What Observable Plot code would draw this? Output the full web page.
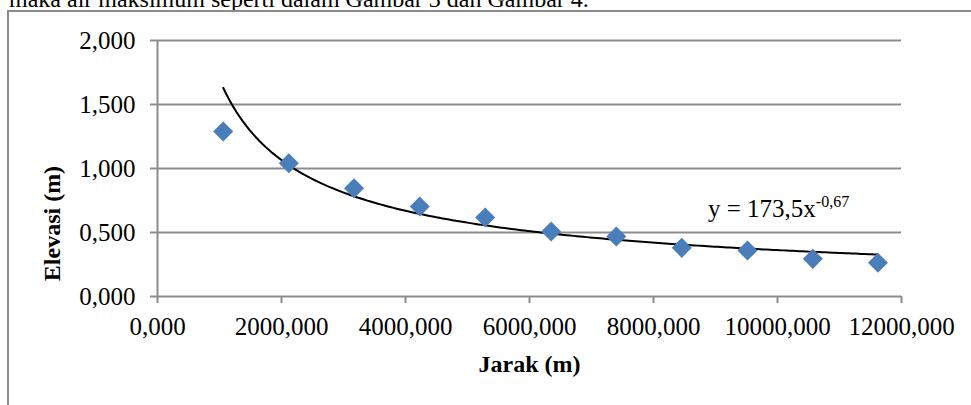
<!DOCTYPE html>
<html><head><meta charset="utf-8">
<script src="https://cdn.jsdelivr.net/npm/d3@7"></script>
<script src="https://cdn.jsdelivr.net/npm/@observablehq/plot@0.6"></script>
<style>
html,body{margin:0;padding:0;background:#fff;}
#wrap{position:relative;width:971px;height:405px;overflow:hidden;font-family:"Liberation Serif",serif;color:#000;}
#bodytext{position:absolute;left:9px;top:-13px;font-size:24px;line-height:24px;white-space:nowrap;}
#frame{position:absolute;left:7px;top:10px;width:1000px;height:500px;border:2px solid #8c8c8c;box-sizing:border-box;}
#eq{position:absolute;left:708px;top:196px;font-size:25px;line-height:25px;white-space:nowrap;}
#eq sup{font-size:16px;vertical-align:0;position:relative;top:-10px;}
#chart{position:absolute;left:0;top:0;}
</style>
</head><body>
<div id="wrap">
  <div id="bodytext">maka air maksimum seperti dalam Gambar 3 dan Gambar 4.</div>
  <div id="frame"></div>
  <div id="chart"></div>
  <div id="eq">y = 173,5x<sup>-0,67</sup></div>
</div>
<script>
// Data
const jarak = [1060, 2118, 3170, 4230, 5285, 6350, 7400, 8456, 9516, 10570, 11620];
const elevasi = [1.289, 1.041, 0.846, 0.703, 0.617, 0.508, 0.469, 0.380, 0.359, 0.294, 0.263];
const xTicks = [0, 2000, 4000, 6000, 8000, 10000, 12000];
const yTicks = [0, 0.5, 1, 1.5, 2];
// Power trendline shown on the chart: y = 173,5 x^-0,67
const trendA = 173.5;
const trendB = -0.67;

const points = jarak.map((x, i) => ({x, y: elevasi[i]}));
const x0 = jarak[0], x1 = jarak[jarak.length - 1];
const trend = d3.range(0, 201).map(k => {
  const x = x0 + (x1 - x0) * k / 200;
  return {x, y: trendA * Math.pow(x, trendB)};
});
const fmt = d => d3.format(".3f")(d).replace(".", ",");
const gray = "#8c8c8c";

const chart = Plot.plot({
  width: 971,
  height: 405,
  marginTop: 40,
  marginRight: 70,
  marginBottom: 109,
  marginLeft: 157,
  style: {fontFamily: "Liberation Serif, serif", fontSize: "25px", color: "#000", background: "transparent", overflow: "visible"},
  x: {domain: [0, 12000]},
  y: {domain: [0, 2]},
  marks: [
    Plot.gridY(yTicks.slice(1), {stroke: gray, strokeOpacity: 1, strokeWidth: 2}),
    Plot.axisY({ticks: yTicks, tickSize: 7, tickPadding: 15, tickFormat: fmt, label: null, stroke: gray, strokeWidth: 2, fill: "#000"}),
    Plot.axisX({ticks: xTicks, tickSize: 7, tickPadding: 14, tickFormat: fmt, label: null, stroke: gray, strokeWidth: 2, fill: "#000"}),
    Plot.ruleX([0], {stroke: gray, strokeWidth: 2}),
    Plot.ruleY([0], {stroke: gray, strokeWidth: 2}),
    Plot.line(trend, {x: "x", y: "y", stroke: "#000", strokeWidth: 2}),
    Plot.dot(points, {x: "x", y: "y", symbol: "square", r: 8, rotate: 45, fill: "#4a7ebb", stroke: "none"}),
    Plot.text(["Jarak (m)"], {text: d => d, frameAnchor: "bottom", lineAnchor: "middle", dy: 68, fontWeight: "bold", fontSize: 24, fill: "#000"}),
    Plot.text(["Elevasi (m)"], {text: d => d, y: () => 0.57, frameAnchor: "left", lineAnchor: "middle", textAnchor: "middle", rotate: -90, dx: -105, fontWeight: "bold", fontSize: 24, fill: "#000"})
  ]
});
document.getElementById("chart").appendChild(chart);
</script>
</body></html>
